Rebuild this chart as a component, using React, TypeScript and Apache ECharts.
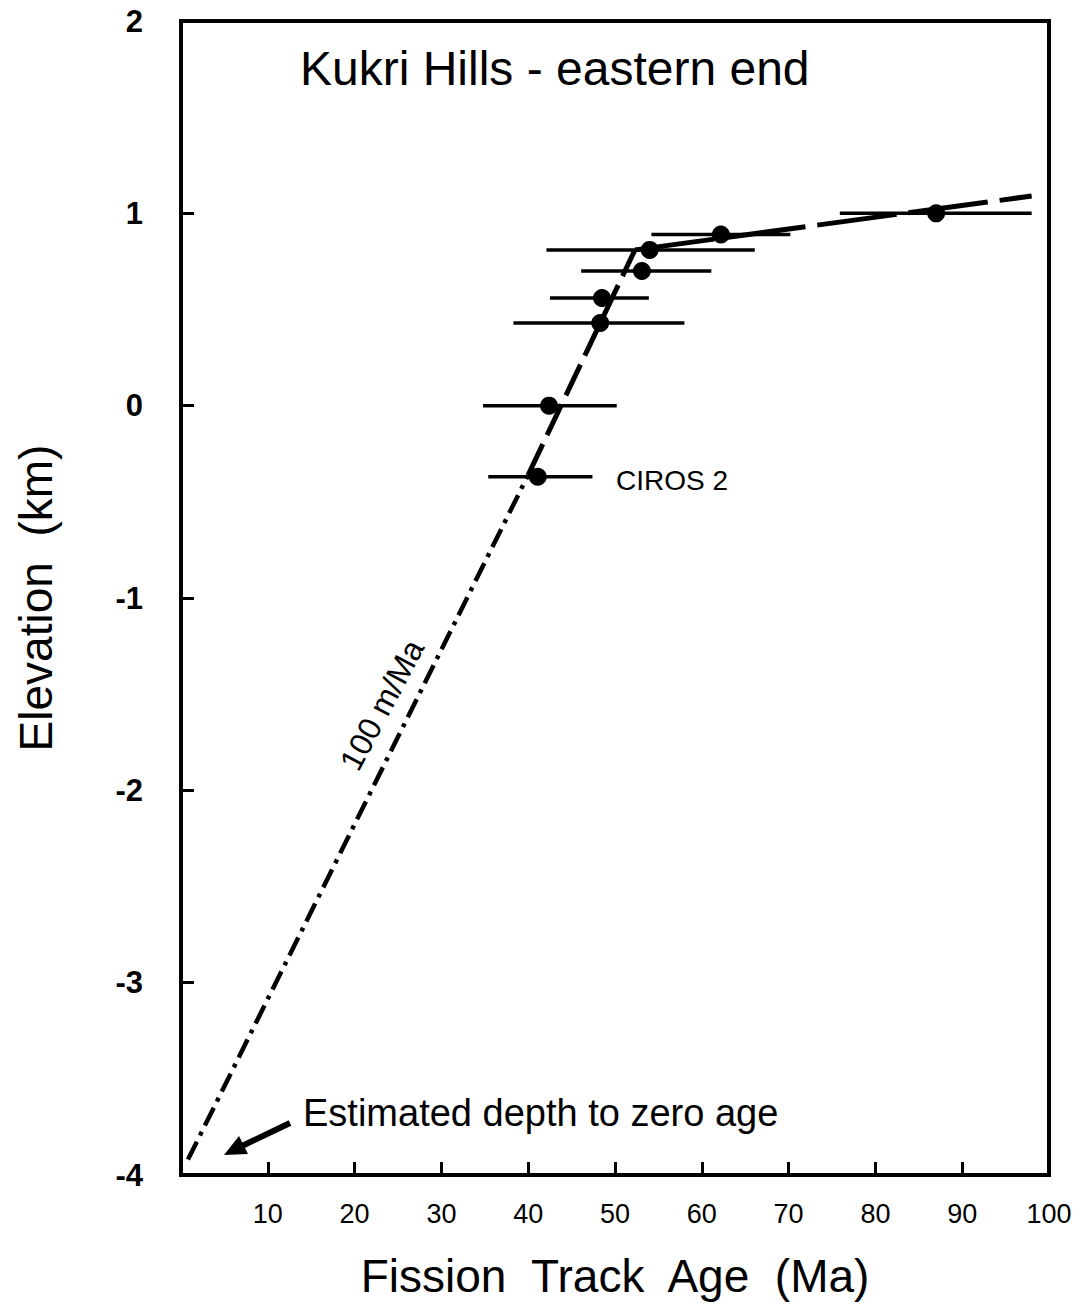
import React, { useEffect, useRef } from "react";
import * as echarts from "echarts";

// Sample fission-track ages (Ma), their error-bar limits and elevations (km)
const ages = [41.1, 42.4, 48.3, 48.5, 53.1, 54.0, 62.2, 87.0];
const ageLow = [35.4, 34.8, 38.3, 42.5, 46.1, 42.1, 54.2, 75.9];
const ageHigh = [47.4, 50.2, 58.0, 53.9, 61.1, 66.1, 70.2, 98.0];
const elevations = [-0.37, 0.0, 0.43, 0.56, 0.7, 0.81, 0.89, 1.0];

// Fitted age-elevation line, in three styled pieces
const extrapAge = [0.8, 40.0];
const extrapElev = [-3.92, -0.36];
const steepAge = [40.0, 52.3];
const steepElev = [-0.36, 0.81];
const upperAge = [52.3, 98.0];
const upperElev = [0.81, 1.09];

// Axis ticks
const xTicks = [0, 10, 20, 30, 40, 50, 60, 70, 80, 90, 100];
const yTicks = [-4, -3, -2, -1, 0, 1, 2];

const FONT = '"Liberation Sans", Arial, Helvetica, sans-serif';

const pairs = (xs: number[], ys: number[]) => xs.map((x, i) => [x, ys[i]]);

export default function App() {
  const ref = useRef<HTMLDivElement>(null);
  useEffect(() => {
    if (!ref.current) return;
    const chart = echarts.init(ref.current, undefined, { renderer: "svg" });
    const lineBase = { type: "line", symbol: "none", silent: true, z: 3 };
    chart.setOption({
      animation: false,
      backgroundColor: "#fff",
      grid: {
        left: 181,
        top: 21,
        right: 32,
        bottom: 121,
        show: true,
        borderColor: "#000",
        borderWidth: 4,
        backgroundColor: "transparent",
      },
      xAxis: {
        type: "value",
        min: xTicks[0],
        max: xTicks[xTicks.length - 1],
        interval: 10,
        name: "Fission  Track  Age  (Ma)",
        nameLocation: "middle",
        nameGap: 78,
        nameTextStyle: { fontSize: 46, fontFamily: FONT, color: "#000" },
        axisLine: { show: true, onZero: false, lineStyle: { color: "#000", width: 4 } },
        axisTick: { show: true, inside: true, length: 13, lineStyle: { color: "#000", width: 3 } },
        axisLabel: {
          fontSize: 27,
          fontFamily: FONT,
          color: "#000",
          margin: 25,
          formatter: (v: number) => (v === 0 ? "" : String(v)),
        },
        splitLine: { show: false },
      },
      yAxis: {
        type: "value",
        min: yTicks[0],
        max: yTicks[yTicks.length - 1],
        interval: 1,
        name: "Elevation  (km)",
        nameLocation: "middle",
        nameGap: 122,
        nameTextStyle: { fontSize: 46, fontFamily: FONT, color: "#000" },
        axisLine: { show: true, onZero: false, lineStyle: { color: "#000", width: 4 } },
        axisTick: { show: true, inside: true, length: 13, lineStyle: { color: "#000", width: 3 } },
        axisLabel: {
          fontSize: 31,
          fontWeight: "bold",
          fontFamily: FONT,
          color: "#000",
          margin: 38,
        },
        splitLine: { show: false },
      },
      series: [
        {
          type: "custom",
          silent: true,
          z: 2,
          renderItem: (params: any, api: any) => {
            const y = api.value(2);
            const a = api.coord([api.value(0), y]);
            const b = api.coord([api.value(1), y]);
            return {
              type: "line",
              shape: { x1: a[0], y1: a[1], x2: b[0], y2: b[1] },
              style: { stroke: "#000", lineWidth: 3.5 },
            };
          },
          encode: { x: [0, 1], y: 2 },
          data: ageLow.map((lo, i) => [lo, ageHigh[i], elevations[i]]),
        },
        {
          ...lineBase,
          data: pairs(extrapAge, extrapElev),
          lineStyle: { color: "#000", width: 4.5, type: [20, 7, 4, 7], cap: "butt" },
        },
        {
          ...lineBase,
          data: pairs(steepAge, steepElev),
          lineStyle: { color: "#000", width: 5, type: [34, 10], cap: "butt" },
        },
        {
          ...lineBase,
          data: pairs(upperAge, upperElev),
          lineStyle: { color: "#000", width: 5, type: [80, 12], cap: "butt" },
        },
        {
          type: "scatter",
          symbol: "circle",
          symbolSize: 18,
          itemStyle: { color: "#000", opacity: 1 },
          z: 4,
          data: pairs(ages, elevations),
        },
      ],
      graphic: [
        {
          type: "text",
          x: 300,
          y: 68,
          style: {
            text: "Kukri Hills - eastern end",
            fontSize: 48,
            fontFamily: FONT,
            fill: "#000",
            align: "left",
            verticalAlign: "middle",
          },
        },
        {
          type: "text",
          x: 616,
          y: 480,
          style: {
            text: "CIROS 2",
            fontSize: 28,
            fontFamily: FONT,
            fill: "#000",
            align: "left",
            verticalAlign: "middle",
          },
        },
        {
          type: "text",
          x: 382,
          y: 705,
          rotation: (62 * Math.PI) / 180,
          style: {
            text: "100 m/Ma",
            fontSize: 32,
            fontFamily: FONT,
            fill: "#000",
            align: "center",
            verticalAlign: "middle",
          },
        },
        {
          type: "text",
          x: 303,
          y: 1113,
          style: {
            text: "Estimated depth to zero age",
            fontSize: 38,
            fontFamily: FONT,
            fill: "#000",
            align: "left",
            verticalAlign: "middle",
          },
        },
        {
          type: "line",
          shape: { x1: 290, y1: 1123, x2: 242, y2: 1146 },
          style: { stroke: "#000", lineWidth: 6 },
        },
        {
          type: "polygon",
          shape: { points: [[224, 1155], [248, 1154], [239, 1136]] },
          style: { fill: "#000" },
        },
      ],
    });
    return () => chart.dispose();
  }, []);
  return (
    <div
      ref={ref}
      style={{ position: "fixed", left: 0, top: 0, width: 1081, height: 1304, background: "#fff" }}
    />
  );
}
